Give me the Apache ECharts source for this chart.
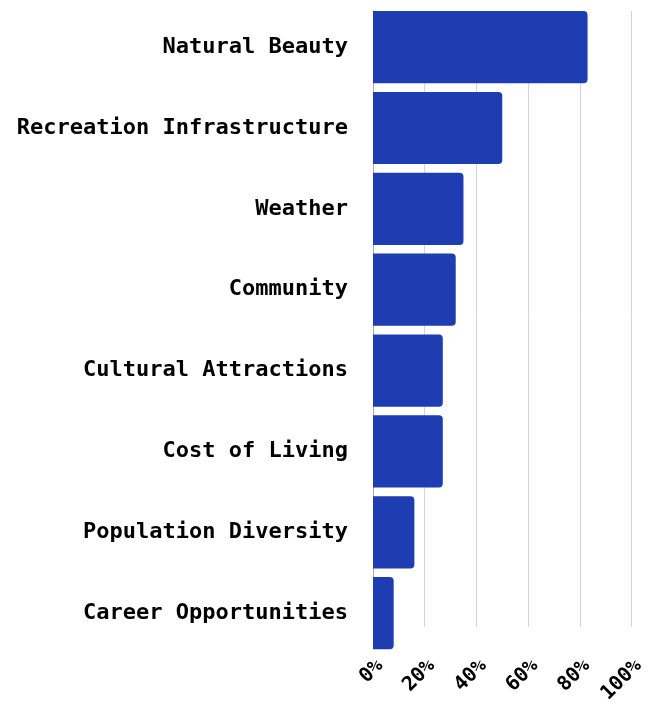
<!DOCTYPE html>
<html>
<head>
<meta charset="utf-8">
<script src="https://cdn.jsdelivr.net/npm/echarts@6/dist/echarts.min.js"></script>
<style>html,body{margin:0;padding:0;background:#fff;}#c{width:655px;height:706px;}</style>
</head>
<body>
<div id="c"></div>
<script>
const categories = ["Natural Beauty","Recreation Infrastructure","Weather","Community","Cultural Attractions","Cost of Living","Population Diversity","Career Opportunities"];
const values = [83, 50, 35, 32, 27, 27, 16, 8];
const xTicks = [0, 20, 40, 60, 80, 100];

const font = "'DejaVu Sans Mono', monospace";
const chart = echarts.init(document.getElementById('c'));
chart.setOption({
  animation: false,
  grid: [
    {left: 373, right: 23.5, top: 6.7, bottom: 52.4},
    {left: 373, right: 23.5, top: 11, bottom: 56.7}
  ],
  xAxis: [
    {gridIndex: 0, type: 'value', min: 0, max: 100, show: false},
    {gridIndex: 1, type: 'value', min: xTicks[0], max: xTicks[xTicks.length-1], interval: xTicks[1]-xTicks[0],
     axisLine: {show: false}, axisTick: {show: false},
     splitLine: {show: true, lineStyle: {color: '#d4d4d4', width: 1}},
     axisLabel: {rotate: 45, margin: 29, verticalAlign: 'top', align: 'right', fontFamily: font, fontWeight: 'bold', fontSize: 20, color: '#000',
       formatter: v => v + '%'}}
  ],
  yAxis: [
    {gridIndex: 0, type: 'category', data: categories, inverse: true,
     axisLine: {show: false}, axisTick: {show: false},
     axisLabel: {margin: 25, fontFamily: font, fontWeight: 'bold', fontSize: 22, color: '#000'}},
    {gridIndex: 1, type: 'value', min: 0, max: 1, axisLabel: {show: false}, axisTick: {show: false}, splitLine: {show: false},
     axisLine: {show: true, lineStyle: {color: '#aaaaaa', width: 1}}}
  ],
  series: [{
    type: 'bar', xAxisIndex: 0, yAxisIndex: 0, data: values,
    barCategoryGap: '10.7%',
    itemStyle: {color: '#1e3db3', borderRadius: [0, 4, 4, 0]}
  }]
});
</script>
</body>
</html>
